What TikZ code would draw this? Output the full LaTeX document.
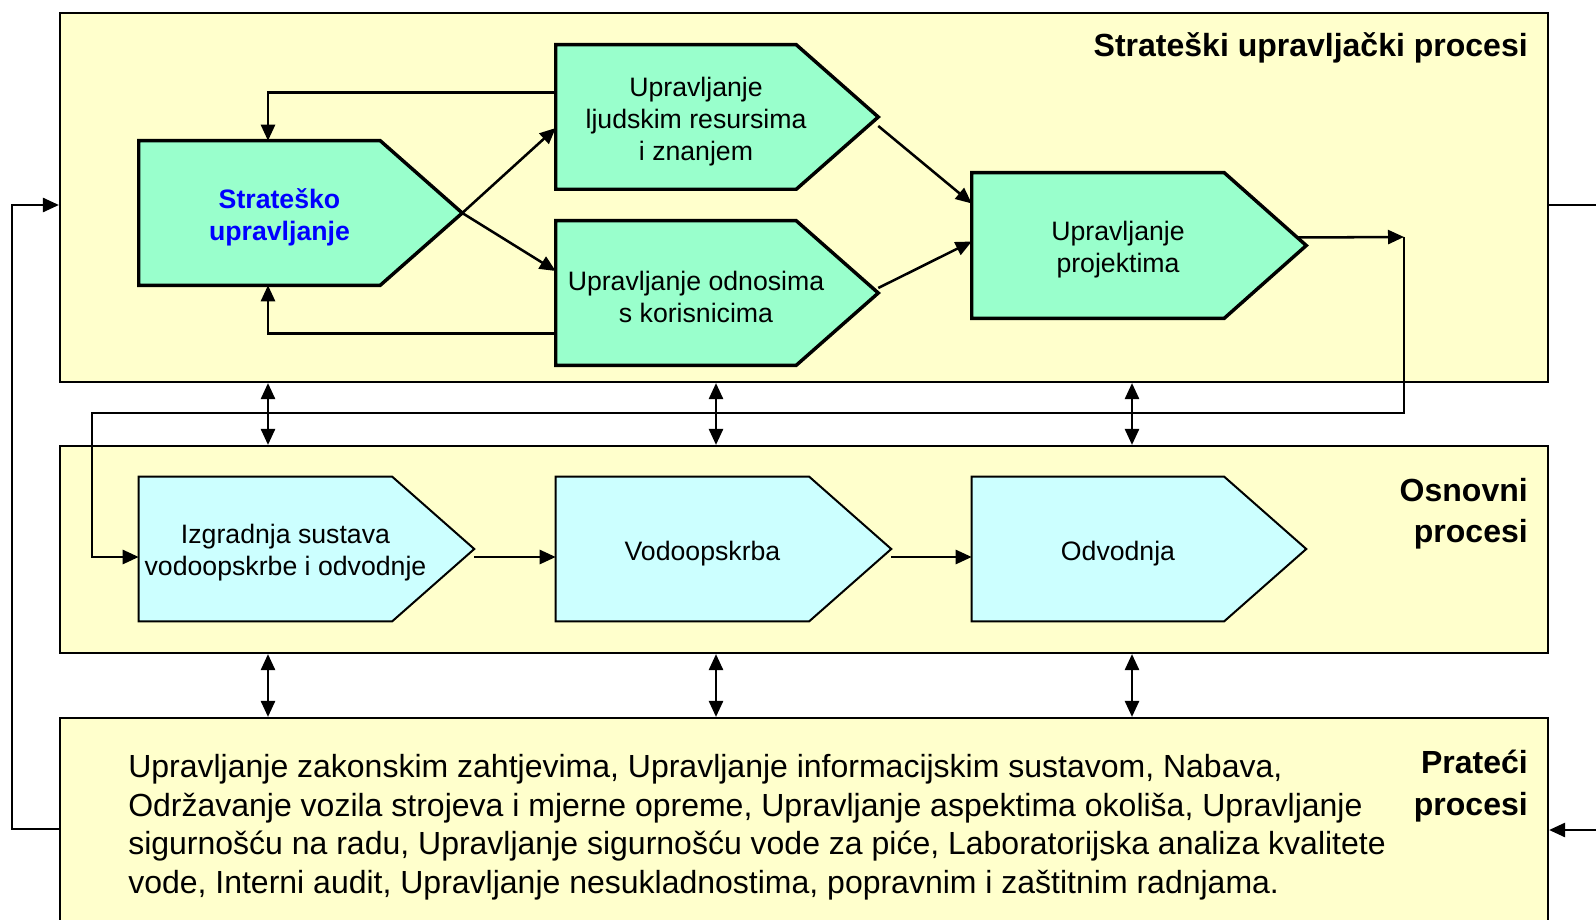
\documentclass[tikz,border=0pt]{standalone}
\usepackage{fontspec}
\setmainfont{Liberation Sans}
\usetikzlibrary{arrows.meta,calc,fit}

\definecolor{frameyellow}{RGB}{255,255,204}
\definecolor{boxgreen}{RGB}{153,255,204}
\definecolor{boxcyan}{RGB}{204,255,255}
\definecolor{titleblue}{RGB}{0,0,255}

\tikzset{
  frame/.style={draw, fill=frameyellow, line width=1.6pt, inner sep=0pt},
  boxarea/.style={inner sep=0pt},
  gbox/.style={draw, fill=boxgreen, line width=2.6pt},
  cbox/.style={draw, fill=boxcyan, line width=1.5pt},
  btxt/.style={align=center, font=\fontsize{20}{24}\selectfont, inner sep=0pt},
  ftxt/.style={align=right, font=\fontsize{24}{31}\selectfont\bfseries, inner sep=0pt},
  ptxt/.style={align=left, font=\fontsize{24}{29}\selectfont, inner sep=0pt},
  arr/.style={line width=1.9pt, -{Triangle[length=12pt,width=10.5pt]}},
  dbl/.style={line width=1.9pt, {Triangle[length=12pt,width=10.5pt]}-{Triangle[length=12pt,width=10.5pt]}},
  link/.style={line width=1.9pt}
}

\begin{document}
\begin{tikzpicture}[x=0.75pt, y=-0.75pt]
\useasboundingbox (0,0) rectangle (1596,920);

% the three process frames
\node[frame, fit={(60,13) (1548,382)}] (stratF) {};
\node[frame, fit={(60,446) (1548,653)}] (osnF) {};
\node[frame, fit={(60,718) (1548,940)}] (pratF) {};

\node[ftxt, anchor=base east] (stratL) at (1528,57) {Strateški upravljački procesi};
\node[ftxt, anchor=east] (osnL) at (1528,514) {Osnovni\\procesi};
\node[ftxt, anchor=east] (pratL) at (1528,786) {Prateći\\procesi};

% process boxes
\node[boxarea, fit={(139,141) (380,285)}] (str) {};
\node[boxarea, fit={(556,45) (796,189)}] (ljud) {};
\node[boxarea, fit={(556,221) (796,365)}] (odn) {};
\node[boxarea, fit={(972,173) (1224,318)}] (proj) {};
\node[boxarea, fit={(139,477) (392,621)}] (izg) {};
\node[boxarea, fit={(556,477) (809,621)}] (vod) {};
\node[boxarea, fit={(972,477) (1224,621)}] (odv) {};

\foreach \b/\s in {str/gbox,ljud/gbox,odn/gbox,proj/gbox,izg/cbox,vod/cbox,odv/cbox} {
  \draw[\s] (\b.north west) -- (\b.north east) -- ($(\b.east)+(82,0)$)
    -- (\b.south east) -- (\b.south west) -- cycle;
}
\coordinate (strtip) at ($(str.east)+(82,0)$);
\coordinate (ljudtip) at ($(ljud.east)+(82,0)$);
\coordinate (odntip) at ($(odn.east)+(82,0)$);
\coordinate (projtip) at ($(proj.east)+(82,0)$);
\coordinate (izgtip) at ($(izg.east)+(82,0)$);
\coordinate (vodtip) at ($(vod.east)+(82,0)$);

\node[btxt, font=\fontsize{20}{24}\selectfont\bfseries, text=titleblue] (strT) at ($(str.center)+(20,4)$) {Strateško\\upravljanje};
\node[btxt] (ljudT) at ($(ljud.center)+(20,5)$) {Upravljanje\\ljudskim resursima\\i znanjem};
\node[btxt] (odnT) at ($(odn.center)+(20,4)$) {Upravljanje odnosima\\s korisnicima};
\node[btxt] (projT) at ($(proj.center)+(20,4)$) {Upravljanje\\projektima};
\node[btxt] (izgT) at ($(izg.center)+(20,4)$) {Izgradnja sustava\\vodoopskrbe i odvodnje};
\node[btxt] (vodT) at ($(vod.center)+(20,5)$) {Vodoopskrba};
\node[btxt] (odvT) at ($(odv.center)+(20,5)$) {Odvodnja};

\node[ptxt, anchor=north west] (pratT) at (128,754) {Upravljanje zakonskim zahtjevima, Upravljanje informacijskim sustavom, Nabava,\\Održavanje vozila strojeva i mjerne opreme, Upravljanje aspektima okoliša, Upravljanje\\sigurnošću na radu, Upravljanje sigurnošću vode za piće, Laboratorijska analiza kvalitete\\vode, Interni audit, Upravljanje nesukladnostima, popravnim i zaštitnim radnjama.};

% connectors inside the strategic frame
\draw[arr] ($(ljud.north west)+(0,48)$) -| ($(str.north)+(8.5,0)$);
\draw[arr] ($(odn.south west)+(0,-32)$) -| ($(str.south)+(8.5,0)$);
\draw[arr] (strtip) -- ($(ljud.west)+(0,11)$);
\draw[arr] (strtip) -- ($(odn.west)+(0,-22)$);
\draw[arr] ($(ljudtip)+(0,9)$) -- ($(proj.west)+(0,-42)$);
\draw[arr] ($(odntip)+(0,-5)$) -- ($(proj.west)+(0,-4)$);
\coordinate (pjcorner) at (1404,237);
\draw[arr] ($(projtip)+(-9,-8)$) -- (pjcorner);
\draw[arr] (pjcorner) |- (92,413) |- ($(izg.west)+(0,8)$);

% core process chain
\draw[arr] ($(izgtip)+(0,8)$) -- ($(vod.west)+(0,8)$);
\draw[arr] ($(vodtip)+(0,8)$) -- ($(odv.west)+(0,8)$);

% links between frames
\foreach \x in {268,716,1132} {
  \draw[dbl] (stratF.south -| \x,0) -- (osnF.north -| \x,0);
  \draw[dbl] (osnF.south -| \x,0) -- (pratF.north -| \x,0);
}

% outer feedback
\draw[arr] (pratF.west |- 0,829) -| (12,205) -- (stratF.west |- 0,205);
\draw[link] (stratF.east |- 0,205) -- (1600,205);
\draw[arr] (1600,830) -- (pratF.east |- 0,830);
\end{tikzpicture}
\end{document}
